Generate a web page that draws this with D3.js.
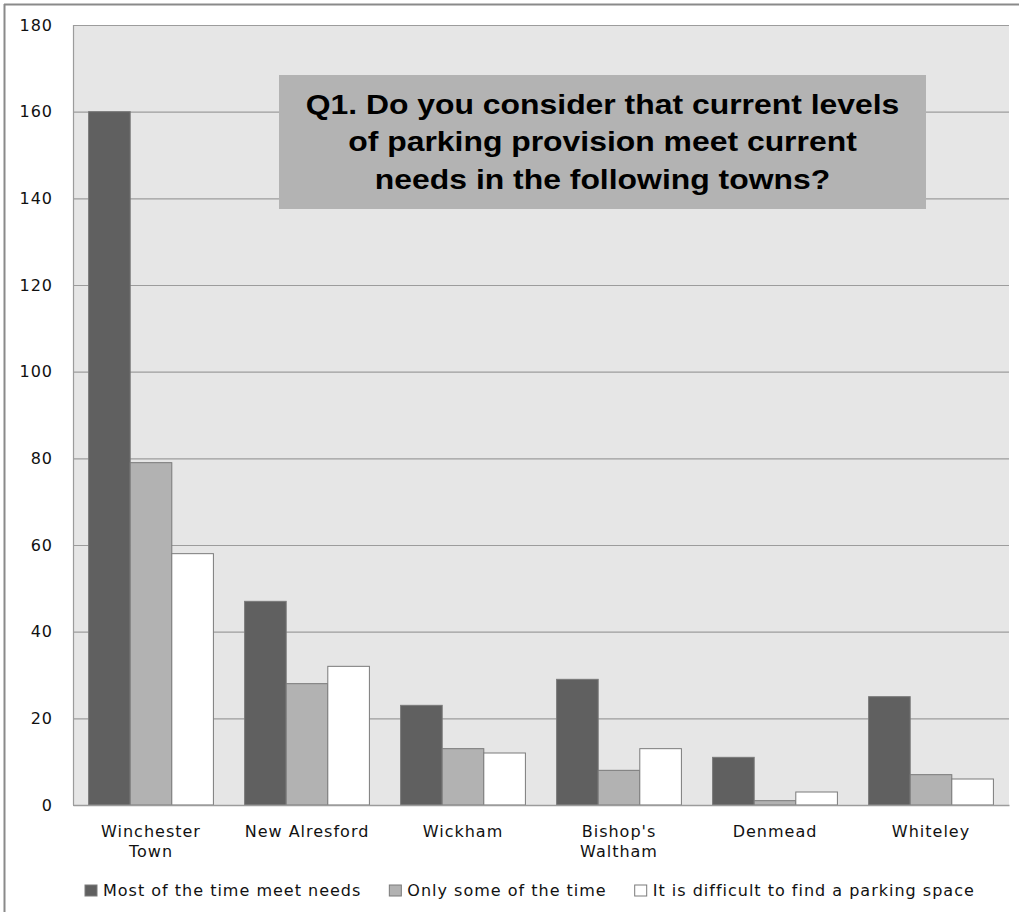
<!DOCTYPE html>
<html>
<head>
<meta charset="utf-8">
<script src="https://cdn.jsdelivr.net/npm/d3@7"></script>
<style>
  html, body { margin: 0; padding: 0; background: #fff; }
  svg { display: block; }
</style>
</head>
<body>
<svg id="chart" width="1019" height="915"></svg>
<script>
// ---- data ----
const categories = ["Winchester Town", "New Alresford", "Wickham", "Bishop's Waltham", "Denmead", "Whiteley"];
const categoryLines = [["Winchester", "Town"], ["New Alresford"], ["Wickham"], ["Bishop's", "Waltham"], ["Denmead"], ["Whiteley"]];
const seriesNames = ["Most of the time meet needs", "Only some of the time", "It is difficult to find a parking space"];
const mostOfTime = [160, 47, 23, 29, 11, 25];
const onlySome = [79, 28, 13, 8, 1, 7];
const difficult = [58, 32, 12, 13, 3, 6];
const yTicks = [0, 20, 40, 60, 80, 100, 120, 140, 160, 180];
const titleLines = ["Q1. Do you consider that current levels", "of parking provision meet current", "needs in the following towns?"];

const seriesValues = [mostOfTime, onlySome, difficult];
const seriesColors = ["#606060", "#b2b2b2", "#ffffff"];

// ---- layout ----
const svg = d3.select("#chart");
const plot = { left: 73, right: 1009, top: 25, bottom: 805 };
const W = plot.right - plot.left, H = plot.bottom - plot.top;
const labelFont = "'DejaVu Sans', Verdana, sans-serif";

svg.append("rect").attr("width", 1019).attr("height", 915).attr("fill", "#fff");

// outer frame (top and left edges visible)
svg.append("line").attr("x1", 4).attr("x2", 1019).attr("y1", 4.5).attr("y2", 4.5)
  .attr("stroke", "#8a8a8a").attr("stroke-width", 2);
svg.append("line").attr("x1", 4.5).attr("x2", 4.5).attr("y1", 4).attr("y2", 912)
  .attr("stroke", "#8a8a8a").attr("stroke-width", 2);

const y = d3.scaleLinear().domain([0, 180]).range([plot.bottom, plot.top]);
const x = d3.scaleBand().domain(categories).range([plot.left, plot.right]).paddingInner(0).paddingOuter(0);
const xs = d3.scaleBand().domain(d3.range(seriesNames.length)).range([0, x.bandwidth()]).paddingInner(0).paddingOuter(0.375);

// plot background
svg.append("rect").attr("x", plot.left).attr("y", plot.top).attr("width", W).attr("height", H).attr("fill", "#e6e6e6");

// y axis with gridlines
const yAxis = svg.append("g").attr("transform", `translate(${plot.left},0)`)
  .call(d3.axisLeft(y).tickValues(yTicks).tickSizeInner(-W).tickSizeOuter(0).tickPadding(20).tickFormat(d3.format("d")));
yAxis.select(".domain").remove();
yAxis.selectAll(".tick line").attr("stroke", "#9c9c9c").attr("stroke-width", 1.2);
yAxis.selectAll(".tick text").attr("font-family", labelFont).attr("font-size", 16)
  .attr("letter-spacing", "1px").attr("fill", "#111");

// plot left border
svg.append("line").attr("x1", plot.left + 0.5).attr("x2", plot.left + 0.5).attr("y1", plot.top).attr("y2", plot.bottom)
  .attr("stroke", "#9c9c9c").attr("stroke-width", 1.2);

// bars
const groups = svg.append("g").selectAll("g").data(categories).join("g")
  .attr("transform", d => `translate(${x(d)},0)`);
groups.selectAll("rect").data((c, i) => seriesValues.map((vals, s) => ({ s, v: vals[i] }))).join("rect")
  .attr("x", d => xs(d.s))
  .attr("width", xs.bandwidth())
  .attr("y", d => y(d.v))
  .attr("height", d => y(0) - y(d.v))
  .attr("fill", d => seriesColors[d.s])
  .attr("stroke", "#7a7a7a")
  .attr("stroke-width", 1);

// x axis
const xAxis = svg.append("g").attr("transform", `translate(0,${plot.bottom})`)
  .call(d3.axisBottom(x).tickSize(0).tickPadding(0));
xAxis.select(".domain").attr("stroke", "#9c9c9c").attr("stroke-width", 1.5);
xAxis.selectAll(".tick text").each(function(d, i) {
  const t = d3.select(this);
  t.text(null).attr("y", 0).attr("dy", null)
    .attr("font-family", labelFont).attr("font-size", 16).attr("letter-spacing", "1px").attr("fill", "#111");
  categoryLines[i].forEach((ln, j) => {
    t.append("tspan").attr("x", 0).attr("y", 32 + j * 20).text(ln);
  });
});

// legend
const legend = svg.append("g");
let lx = 85;
seriesNames.forEach((name, s) => {
  legend.append("rect").attr("x", lx).attr("y", 885).attr("width", 12).attr("height", 11)
    .attr("fill", seriesColors[s]).attr("stroke", "#7a7a7a").attr("stroke-width", 1);
  const t = legend.append("text").attr("x", lx + 18).attr("y", 896)
    .attr("font-family", labelFont).attr("font-size", 16).attr("letter-spacing", "1px").attr("fill", "#111")
    .text(name);
  lx += 18 + t.node().getComputedTextLength() + 28;
});

// title box
const box = { x: 279, y: 75, w: 647, h: 134 };
svg.append("rect").attr("x", box.x).attr("y", box.y).attr("width", box.w).attr("height", box.h).attr("fill", "#b3b3b3");
const cx = box.x + box.w / 2;
const tg = svg.append("g");
const baselines = [114, 151, 189];
const texts = titleLines.map((ln, i) => tg.append("text")
  .attr("x", 0).attr("y", 0)
  .attr("text-anchor", "middle")
  .attr("font-family", "'Liberation Sans', Arial, sans-serif").attr("font-weight", "bold").attr("font-size", 28)
  .attr("fill", "#000").text(ln));
const w0 = texts[0].node().getComputedTextLength();
const sx = 594 / w0;
texts.forEach((t, i) => t.attr("transform", `translate(${cx},${baselines[i]}) scale(${sx},1)`));
</script>
</body>
</html>
